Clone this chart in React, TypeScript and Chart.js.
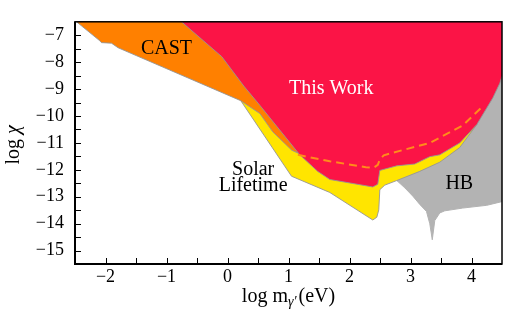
import React, { useEffect, useRef } from "react";
import { Chart, registerables } from "chart.js";

Chart.register(...registerables);

// Axis ranges and ticks
const X_MIN = -2.5;
const X_MAX = 4.5;
const Y_MIN = -15.5;
const Y_MAX = -6.5;
const X_TICKS = [-2, -1, 0, 1, 2, 3, 4];
const Y_TICKS = [-15, -14, -13, -12, -11, -10, -9, -8, -7];

// "This Work" region outline (log m, log chi)
const WORK_X = [-0.75, -0.754, -0.093, 0.267, 0.53, 0.857, 1.185, 1.48, 1.677, 2.382, 2.464, 2.497, 2.775, 3.07, 3.316, 3.48, 3.808, 4.087, 4.349, 4.464, 4.497, 4.63, 4.63];
const WORK_Y = [-6.2, -6.5, -7.796, -8.887, -9.603, -10.523, -11.444, -12.06, -12.36, -12.637, -12.535, -12.023, -11.853, -11.785, -11.512, -11.444, -11.0, -10.319, -9.33, -8.784, -8.546, -8.2, -6.2];

// CAST region outline
const CAST_X = [-2.6, -2.475, -2.093, -2.066, -1.902, -1.793, 0.218, 0.53, 0.743, 1.054, 1.218, 1.677, 0.53, -0.454];
const CAST_Y = [-6.3, -6.5, -7.206, -7.274, -7.294, -7.465, -9.432, -9.909, -10.591, -11.273, -11.444, -11.273, -8.205, -6.2];

// Solar lifetime region outline
const SOLAR_X = [0.218, 1.049, 1.677, 2.382, 2.448, 2.48, 2.497, 2.579, 2.775, 3.152, 3.48, 3.808, 4.087, 3.644, 1.185, 0.284];
const SOLAR_Y = [-9.432, -12.238, -12.842, -13.865, -13.762, -13.489, -12.739, -12.569, -12.398, -12.057, -11.716, -11.171, -10.319, -8.546, -8.546, -9.228];

// HB region outline
const HB_X = [2.775, 2.825, 3.972, 4.79, 4.79, 4.497, 4.251, 3.857, 3.562, 3.48, 3.398, 3.357, 3.316, 3.262, 3.152, 3.038, 2.907];
const HB_Y = [-12.398, -12.126, -10.25, -7.52, -13.183, -13.183, -13.319, -13.421, -13.524, -13.602, -13.888, -14.6, -14.001, -13.547, -13.285, -12.978, -12.671];

// Dashed projection line
const DASH_X = [1.154, 1.677, 2.267, 2.398, 2.464, 2.497, 2.562, 2.693, 3.316, 3.857, 4.169];
const DASH_Y = [-11.444, -11.682, -11.904, -11.921, -11.819, -11.614, -11.461, -11.376, -11.0, -10.353, -9.671];

const SERIF = "'Liberation Serif', 'DejaVu Serif', serif";

function pts(xs: number[], ys: number[], close: boolean) {
  const p = xs.map((x, i) => ({ x, y: ys[i] }));
  if (close) p.push({ x: xs[0], y: ys[0] });
  return p;
}

const minus = (v: number) => (v < 0 ? "\u2212" + Math.abs(v) : String(v));

const decorPlugin = {
  id: "decor",
  afterDraw(chart: any) {
    const { ctx, chartArea: a, scales } = chart;
    const xs = scales.x;
    const ys = scales.y;
    ctx.save();
    // Frame
    ctx.strokeStyle = "#000";
    ctx.lineWidth = 1.5;
    ctx.strokeRect(a.left, a.top, a.right - a.left, a.bottom - a.top);
    ctx.lineWidth = 2;
    ctx.beginPath();
    ctx.moveTo(a.left, a.top);
    ctx.lineTo(a.left, a.bottom);
    ctx.lineTo(a.right, a.bottom);
    ctx.stroke();
    // Inward ticks (major + minor)
    ctx.lineWidth = 1;
    ctx.beginPath();
    for (let v = -2.5; v <= 4.5; v += 0.5) {
      const px = Math.round(xs.getPixelForValue(v)) + 0.5;
      if (px <= a.left + 1 || px >= a.right - 1) continue;
      ctx.moveTo(px, a.bottom);
      ctx.lineTo(px, a.bottom - 6);
    }
    for (let v = -15.5; v <= -6.5; v += 0.5) {
      const py = Math.round(ys.getPixelForValue(v)) + 0.5;
      if (py <= a.top + 1 || py >= a.bottom - 1) continue;
      ctx.moveTo(a.left, py);
      ctx.lineTo(a.left + 6, py);
    }
    ctx.stroke();

    // Region labels
    ctx.font = "20px " + SERIF;
    ctx.textAlign = "center";
    ctx.textBaseline = "middle";
    ctx.fillStyle = "#000";
    ctx.fillText("CAST", xs.getPixelForValue(-1.0), ys.getPixelForValue(-7.5));
    ctx.fillText("Solar", xs.getPixelForValue(0.42), ys.getPixelForValue(-11.98));
    ctx.fillText("Lifetime", xs.getPixelForValue(0.42), ys.getPixelForValue(-12.6));
    ctx.fillText("HB", xs.getPixelForValue(3.8), ys.getPixelForValue(-12.5));
    ctx.fillStyle = "#fff";
    ctx.fillText("This Work", xs.getPixelForValue(1.7), ys.getPixelForValue(-9.0));

    // X axis title: log m_γ'(eV)
    ctx.fillStyle = "#000";
    ctx.textAlign = "left";
    ctx.textBaseline = "alphabetic";
    const base = 302;
    const f1 = "20px " + SERIF;
    const f2 = "italic 14px " + SERIF;
    ctx.font = f1;
    const t1 = "log m";
    const t3 = "(eV)";
    const w1 = ctx.measureText(t1).width;
    const w3 = ctx.measureText(t3).width;
    ctx.font = f2;
    const w2 = ctx.measureText("\u03B3\u2032").width + 2;
    const total = w1 + w2 + w3;
    const cx = (a.left + a.right) / 2;
    const x0 = cx - total / 2;
    ctx.font = f1;
    ctx.fillText(t1, x0, base);
    ctx.font = f2;
    ctx.fillText("\u03B3\u2032", x0 + w1, base + 4);
    ctx.font = f1;
    ctx.fillText(t3, x0 + w1 + w2, base);

    // Y axis title: log χ
    ctx.save();
    ctx.translate(19, (a.top + a.bottom) / 2 + 2);
    ctx.rotate(-Math.PI / 2);
    ctx.font = f1;
    const l1 = "log ";
    const lw = ctx.measureText(l1).width;
    ctx.font = "italic 20px " + SERIF;
    const cw = ctx.measureText("\u03C7").width;
    const start = -(lw + cw) / 2;
    ctx.font = f1;
    ctx.fillText(l1, start, 0);
    ctx.font = "italic 20px " + SERIF;
    ctx.fillText("\u03C7", start + lw, 0);
    ctx.restore();

    ctx.restore();
  },
};

export default function App() {
  const ref = useRef<HTMLCanvasElement | null>(null);
  useEffect(() => {
    if (!ref.current) return;
    const edge = "rgba(150,150,150,0.9)";
    const chart = new Chart(ref.current, {
      type: "scatter",
      data: {
        datasets: [
          {
            label: "dashed",
            data: pts(DASH_X, DASH_Y, false),
            showLine: true,
            borderColor: "#ff8c1a",
            borderWidth: 2,
            borderDash: [8, 5],
            pointRadius: 0,
            fill: false,
            order: 0,
          },
          {
            label: "This Work",
            data: pts(WORK_X, WORK_Y, true),
            showLine: true,
            backgroundColor: "#fb1446",
            borderColor: edge,
            borderWidth: 1,
            pointRadius: 0,
            fill: "shape",
            order: 1,
          },
          {
            label: "CAST",
            data: pts(CAST_X, CAST_Y, true),
            showLine: true,
            backgroundColor: "#ff8000",
            borderColor: edge,
            borderWidth: 1,
            pointRadius: 0,
            fill: "shape",
            order: 2,
          },
          {
            label: "Solar Lifetime",
            data: pts(SOLAR_X, SOLAR_Y, true),
            showLine: true,
            backgroundColor: "#ffe500",
            borderColor: edge,
            borderWidth: 1,
            pointRadius: 0,
            fill: "shape",
            order: 3,
          },
          {
            label: "HB",
            data: pts(HB_X, HB_Y, true),
            showLine: true,
            backgroundColor: "#b3b3b3",
            borderColor: "#b3b3b3",
            borderWidth: 1,
            pointRadius: 0,
            fill: "shape",
            order: 4,
          },
        ],
      } as any,
      options: {
        animation: false,
        responsive: false,
        devicePixelRatio: 1,
        layout: { padding: { left: 0, right: 5, top: 0, bottom: 0 } },
        plugins: { legend: { display: false }, tooltip: { enabled: false } },
        elements: { line: { tension: 0 } },
        scales: {
          x: {
            type: "linear",
            min: X_MIN,
            max: X_MAX,
            grid: { display: false, drawTicks: false },
            border: { display: false },
            afterBuildTicks: (s: any) => {
              s.ticks = X_TICKS.map((v) => ({ value: v }));
            },
            afterFit: (s: any) => {
              s.height = 49;
            },
            ticks: {
              autoSkip: false,
              maxRotation: 0,
              padding: 2,
              color: "#000",
              font: { family: SERIF, size: 18 },
              callback: (v: any) => minus(Number(v)),
            },
          },
          y: {
            type: "linear",
            min: Y_MIN,
            max: Y_MAX,
            grid: { display: false, drawTicks: false },
            border: { display: false },
            afterBuildTicks: (s: any) => {
              s.ticks = Y_TICKS.map((v) => ({ value: v }));
            },
            afterFit: (s: any) => {
              s.width = 75;
            },
            ticks: {
              autoSkip: false,
              padding: 11,
              color: "#000",
              font: { family: SERIF, size: 18 },
              callback: (v: any) => minus(Number(v)),
            },
          },
        },
      } as any,
      plugins: [decorPlugin],
    });
    return () => chart.destroy();
  }, []);
  return (
    <div style={{ position: "absolute", left: 0, top: 0, width: 507, height: 313, background: "#fff" }}>
      <canvas ref={ref} width={507} height={313} style={{ display: "block" }} />
    </div>
  );
}
